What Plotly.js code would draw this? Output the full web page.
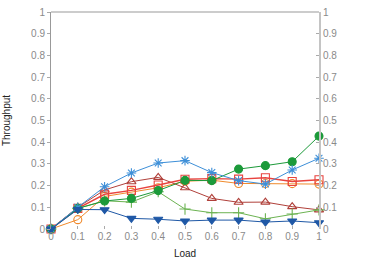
<!DOCTYPE html>
<html><head><meta charset="utf-8">
<script src="https://cdn.plot.ly/plotly-3.0.1.min.js"></script>
<style>body{margin:0;padding:0;background:#fff}#c{width:374px;height:262px}</style>
</head><body><div id="c"></div>
<script>
const load = [0,0.1,0.2,0.3,0.4,0.5,0.6,0.7,0.8,0.9,1];
const tickLabels = ["0","0.1","0.2","0.3","0.4","0.5","0.6","0.7","0.8","0.9","1"];
const orangeCircle = [0,0.043,0.15,0.17,0.19,0.22,0.225,0.21,0.21,0.209,0.207];
const darkRedTriangle = [0,0.1,0.18,0.218,0.238,0.19,0.141,0.123,0.124,0.103,0.088];
const redSquare = [0,0.095,0.16,0.178,0.203,0.229,0.232,0.23,0.236,0.219,0.227];
const lightGreenPlus = [0,0.095,0.13,0.124,0.172,0.092,0.075,0.075,0.047,0.069,0.088];
const greenCircle = [0,0.095,0.129,0.141,0.177,0.224,0.223,0.276,0.292,0.31,0.428];
const lightBlueStar = [0,0.1,0.195,0.258,0.304,0.315,0.26,0.223,0.207,0.272,0.326];
const darkBlueTriangle = [0,0.09,0.089,0.049,0.045,0.037,0.041,0.041,0.032,0.037,0.029];

function tr(y, color, symbol, size, lw){
  return {x: load, y: y, type:'scatter', mode:'lines+markers', cliponaxis:false,
    line:{color:color, width: lw||1},
    marker:{symbol:symbol, size:size, color:color, line:{color:color, width:1.1}},
    showlegend:false, hoverinfo:'skip'};
}
const data = [
  tr(orangeCircle, '#f08a2c', 'circle-open', 8),
  tr(darkRedTriangle, '#b0403a', 'triangle-up-open', 8),
  tr(redSquare, '#e8433e', 'square-open', 8, 1.4),
  tr(lightGreenPlus, '#6cb352', 'cross-thin-open', 8),
  tr(greenCircle, '#1c9a3a', 'circle', 8),
  tr(lightBlueStar, '#3d8fd8', 'asterisk-open', 8),
  tr(darkBlueTriangle, '#1f58a6', 'triangle-down', 8),
  {x:[0], y:[0], yaxis:'y2', mode:'markers', marker:{opacity:0}, showlegend:false, hoverinfo:'skip'}
];
const tickFont = {family:'Liberation Sans, Arial, sans-serif', size:10, color:'#8a8a8a'};
const layout = {
  width:374, height:262,
  margin:{l:51, r:55, t:12, b:33, pad:0},
  paper_bgcolor:'#fff', plot_bgcolor:'#fff',
  showlegend:false,
  xaxis:{range:[0,1], tickvals:load, ticktext:tickLabels, showgrid:false, zeroline:false,
    showline:false, ticks:'inside', ticklen:3, tickcolor:'#aaa', tickfont:tickFont,
    title:{text:'Load', font:{family:'Liberation Sans, Arial, sans-serif', size:10, color:'#222'}, standoff:8}},
  yaxis:{range:[0,1], tickvals:[0,0.1,0.2,0.3,0.4,0.5,0.6,0.7,0.8,0.9,1],
    ticktext:tickLabels, showgrid:false, zeroline:false, showline:true, linecolor:'#999', linewidth:1,
    ticks:'outside', ticklen:3, tickcolor:'#aaa', tickfont:tickFont,
    title:{text:'Throughput', font:{family:'Liberation Sans, Arial, sans-serif', size:10, color:'#222'}, standoff:18}},
  yaxis2:{range:[0,1], overlaying:'y', side:'right', tickvals:[0,0.1,0.2,0.3,0.4,0.5,0.6,0.7,0.8,0.9,1],
    ticktext:tickLabels, showgrid:false, zeroline:false, showline:true, linecolor:'#c4c4c4', linewidth:2,
    ticks:'inside', ticklen:3, tickcolor:'#aaa', tickfont:tickFont},
  shapes:[{type:'line', xref:'paper', yref:'paper', x0:0, x1:1, y0:1, y1:1, line:{color:'#999', width:1}}]
};
Plotly.newPlot('c', data, layout, {staticPlot:true, displayModeBar:false});
</script></body></html>
